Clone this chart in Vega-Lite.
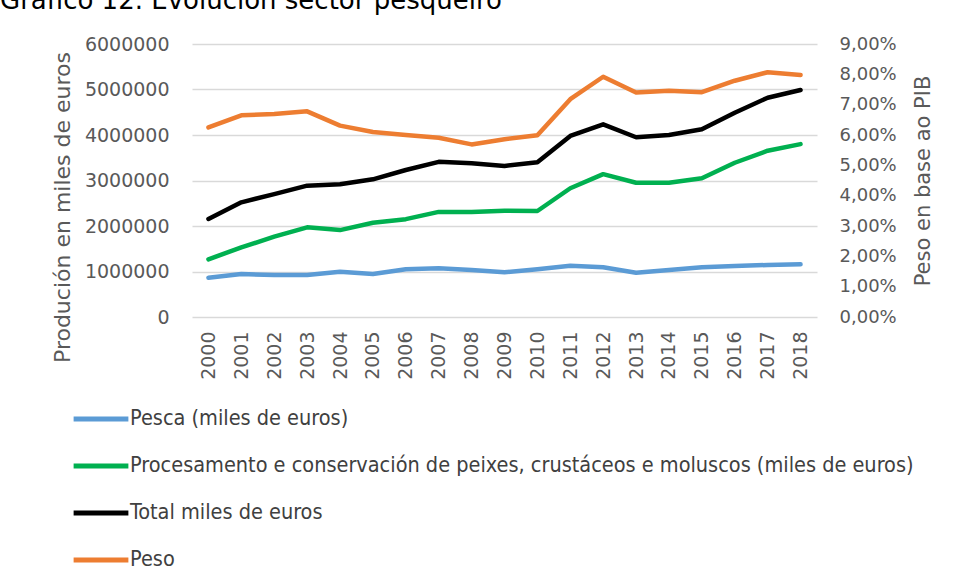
{
  "$schema": "https://vega.github.io/schema/vega-lite/v6.json",
  "autosize": "none",
  "width": 625,
  "height": 273,
  "padding": {"left": 192, "top": 44, "right": 142, "bottom": 267},
  "background": "white",
  "config": {
    "locale": {"number": {"decimal": ",", "thousands": ".", "grouping": [3], "currency": ["", " €"]}},
    "view": {"stroke": null},
    "font": "DejaVu Sans"
  },
  "title": {
    "text": "Gráfico 12. Evolución sector pesqueiro",
    "anchor": "start",
    "frame": "group",
    "orient": "top",
    "font": "DejaVu Sans",
    "fontSize": 26,
    "fontWeight": "normal",
    "color": "#000000",
    "dx": -192,
    "offset": 21
  },
  "datasets": {
    "lines": [
      {"year": "2000", "series": "Pesca (miles de euros)", "value": 864000},
      {"year": "2001", "series": "Pesca (miles de euros)", "value": 945000},
      {"year": "2002", "series": "Pesca (miles de euros)", "value": 923000},
      {"year": "2003", "series": "Pesca (miles de euros)", "value": 923000},
      {"year": "2004", "series": "Pesca (miles de euros)", "value": 996000},
      {"year": "2005", "series": "Pesca (miles de euros)", "value": 945000},
      {"year": "2006", "series": "Pesca (miles de euros)", "value": 1048000},
      {"year": "2007", "series": "Pesca (miles de euros)", "value": 1070000},
      {"year": "2008", "series": "Pesca (miles de euros)", "value": 1033000},
      {"year": "2009", "series": "Pesca (miles de euros)", "value": 982000},
      {"year": "2010", "series": "Pesca (miles de euros)", "value": 1048000},
      {"year": "2011", "series": "Pesca (miles de euros)", "value": 1128000},
      {"year": "2012", "series": "Pesca (miles de euros)", "value": 1092000},
      {"year": "2013", "series": "Pesca (miles de euros)", "value": 974000},
      {"year": "2014", "series": "Pesca (miles de euros)", "value": 1033000},
      {"year": "2015", "series": "Pesca (miles de euros)", "value": 1092000},
      {"year": "2016", "series": "Pesca (miles de euros)", "value": 1120000},
      {"year": "2017", "series": "Pesca (miles de euros)", "value": 1143000},
      {"year": "2018", "series": "Pesca (miles de euros)", "value": 1158000},
      {"year": "2000", "series": "Procesamento e conservación de peixes, crustáceos e moluscos (miles de euros)", "value": 1268000},
      {"year": "2001", "series": "Procesamento e conservación de peixes, crustáceos e moluscos (miles de euros)", "value": 1530000},
      {"year": "2002", "series": "Procesamento e conservación de peixes, crustáceos e moluscos (miles de euros)", "value": 1765000},
      {"year": "2003", "series": "Procesamento e conservación de peixes, crustáceos e moluscos (miles de euros)", "value": 1970000},
      {"year": "2004", "series": "Procesamento e conservación de peixes, crustáceos e moluscos (miles de euros)", "value": 1910000},
      {"year": "2005", "series": "Procesamento e conservación de peixes, crustáceos e moluscos (miles de euros)", "value": 2070000},
      {"year": "2006", "series": "Procesamento e conservación de peixes, crustáceos e moluscos (miles de euros)", "value": 2150000},
      {"year": "2007", "series": "Procesamento e conservación de peixes, crustáceos e moluscos (miles de euros)", "value": 2310000},
      {"year": "2008", "series": "Procesamento e conservación de peixes, crustáceos e moluscos (miles de euros)", "value": 2310000},
      {"year": "2009", "series": "Procesamento e conservación de peixes, crustáceos e moluscos (miles de euros)", "value": 2336000},
      {"year": "2010", "series": "Procesamento e conservación de peixes, crustáceos e moluscos (miles de euros)", "value": 2330000},
      {"year": "2011", "series": "Procesamento e conservación de peixes, crustáceos e moluscos (miles de euros)", "value": 2830000},
      {"year": "2012", "series": "Procesamento e conservación de peixes, crustáceos e moluscos (miles de euros)", "value": 3140000},
      {"year": "2013", "series": "Procesamento e conservación de peixes, crustáceos e moluscos (miles de euros)", "value": 2950000},
      {"year": "2014", "series": "Procesamento e conservación de peixes, crustáceos e moluscos (miles de euros)", "value": 2950000},
      {"year": "2015", "series": "Procesamento e conservación de peixes, crustáceos e moluscos (miles de euros)", "value": 3050000},
      {"year": "2016", "series": "Procesamento e conservación de peixes, crustáceos e moluscos (miles de euros)", "value": 3390000},
      {"year": "2017", "series": "Procesamento e conservación de peixes, crustáceos e moluscos (miles de euros)", "value": 3655000},
      {"year": "2018", "series": "Procesamento e conservación de peixes, crustáceos e moluscos (miles de euros)", "value": 3800000},
      {"year": "2000", "series": "Total miles de euros", "value": 2154000},
      {"year": "2001", "series": "Total miles de euros", "value": 2520000},
      {"year": "2002", "series": "Total miles de euros", "value": 2700000},
      {"year": "2003", "series": "Total miles de euros", "value": 2886000},
      {"year": "2004", "series": "Total miles de euros", "value": 2916000},
      {"year": "2005", "series": "Total miles de euros", "value": 3026000},
      {"year": "2006", "series": "Total miles de euros", "value": 3230000},
      {"year": "2007", "series": "Total miles de euros", "value": 3410000},
      {"year": "2008", "series": "Total miles de euros", "value": 3380000},
      {"year": "2009", "series": "Total miles de euros", "value": 3320000},
      {"year": "2010", "series": "Total miles de euros", "value": 3400000},
      {"year": "2011", "series": "Total miles de euros", "value": 3980000},
      {"year": "2012", "series": "Total miles de euros", "value": 4235000},
      {"year": "2013", "series": "Total miles de euros", "value": 3950000},
      {"year": "2014", "series": "Total miles de euros", "value": 4000000},
      {"year": "2015", "series": "Total miles de euros", "value": 4125000},
      {"year": "2016", "series": "Total miles de euros", "value": 4490000},
      {"year": "2017", "series": "Total miles de euros", "value": 4820000},
      {"year": "2018", "series": "Total miles de euros", "value": 4990000}
    ],
    "peso": [
      {"year": "2000", "series": "Peso", "value": 0.0625},
      {"year": "2001", "series": "Peso", "value": 0.0665},
      {"year": "2002", "series": "Peso", "value": 0.0669},
      {"year": "2003", "series": "Peso", "value": 0.0678},
      {"year": "2004", "series": "Peso", "value": 0.0631},
      {"year": "2005", "series": "Peso", "value": 0.061},
      {"year": "2006", "series": "Peso", "value": 0.06},
      {"year": "2007", "series": "Peso", "value": 0.0591},
      {"year": "2008", "series": "Peso", "value": 0.0569},
      {"year": "2009", "series": "Peso", "value": 0.0586},
      {"year": "2010", "series": "Peso", "value": 0.0599},
      {"year": "2011", "series": "Peso", "value": 0.0718},
      {"year": "2012", "series": "Peso", "value": 0.0792},
      {"year": "2013", "series": "Peso", "value": 0.074},
      {"year": "2014", "series": "Peso", "value": 0.0746},
      {"year": "2015", "series": "Peso", "value": 0.0741},
      {"year": "2016", "series": "Peso", "value": 0.0779},
      {"year": "2017", "series": "Peso", "value": 0.0807},
      {"year": "2018", "series": "Peso", "value": 0.0798}
    ]
  },
  "encoding": {
    "x": {
      "field": "year",
      "type": "ordinal",
      "scale": {"type": "point", "padding": 0.5},
      "axis": {
        "title": null,
        "labelAngle": -90,
        "labelAlign": "right",
        "labelBaseline": "middle",
        "labelPadding": 14,
        "labelFont": "DejaVu Sans",
        "labelFontSize": 19,
        "labelColor": "#595959",
        "domain": false,
        "ticks": false,
        "grid": false
      }
    },
    "color": {
      "field": "series",
      "type": "nominal",
      "scale": {
        "domain": ["Pesca (miles de euros)", "Procesamento e conservación de peixes, crustáceos e moluscos (miles de euros)", "Total miles de euros", "Peso"],
        "range": ["#5B9BD5", "#00B050", "#000000", "#ED7D31"]
      },
      "legend": {
        "title": null,
        "orient": "none",
        "legendX": -121,
        "legendY": 345,
        "direction": "vertical",
        "symbolType": "stroke",
        "symbolSize": 3000,
        "symbolStrokeWidth": 5,
        "labelFont": "DejaVu Sans Condensed",
        "labelFontSize": 21.5,
        "labelColor": "#404040",
        "labelOffset": -1,
        "labelLimit": 900,
        "rowPadding": 6
      }
    }
  },
  "layer": [
    {
      "data": {"name": "lines"},
      "mark": {"type": "line", "strokeWidth": 4.5, "strokeCap": "round", "strokeJoin": "round"},
      "encoding": {
        "y": {
          "field": "value",
          "type": "quantitative",
          "scale": {"domain": [0, 6000000], "nice": false},
          "axis": {
            "title": "Produción en miles de euros",
            "titleFont": "DejaVu Sans",
            "titleFontSize": 22,
            "titleFontWeight": "normal",
            "titleColor": "#595959",
            "titlePadding": 10,
            "titleY": 163,
            "values": [0, 1000000, 2000000, 3000000, 4000000, 5000000, 6000000],
            "format": "d",
            "labelFont": "DejaVu Sans",
            "labelFontSize": 19,
            "labelColor": "#595959",
            "labelPadding": 23,
            "domain": false,
            "ticks": false,
            "grid": true,
            "gridColor": "#D9D9D9",
            "gridWidth": 1.5
          }
        }
      }
    },
    {
      "data": {"name": "peso"},
      "mark": {"type": "line", "strokeWidth": 4.5, "strokeCap": "round", "strokeJoin": "round"},
      "encoding": {
        "y": {
          "field": "value",
          "type": "quantitative",
          "scale": {"domain": [0, 0.09], "nice": false},
          "axis": {
            "orient": "right",
            "title": "Peso en base ao PIB",
            "titleAngle": -90,
            "titleBaseline": "top",
            "titleFont": "DejaVu Sans",
            "titleFontSize": 21,
            "titleFontWeight": "normal",
            "titleColor": "#595959",
            "titlePadding": 16,
            "values": [0, 0.01, 0.02, 0.03, 0.04, 0.05, 0.06, 0.07, 0.08, 0.09],
            "format": ".2%",
            "labelFont": "DejaVu Sans",
            "labelFontSize": 18,
            "labelColor": "#595959",
            "labelPadding": 22,
            "domain": false,
            "ticks": false,
            "grid": false
          }
        }
      }
    }
  ],
  "resolve": {"scale": {"y": "independent"}}
}
